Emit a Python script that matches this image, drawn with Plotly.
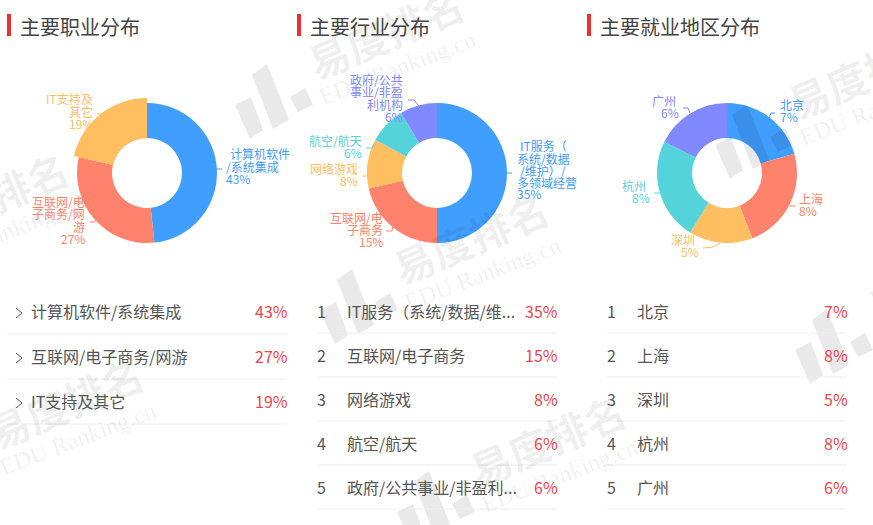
#!/usr/bin/env python3

import plotly.graph_objects as go

# data
job_names = ["计算机软件/系统集成", "互联网/电子商务/网游", "IT支持及其它"]
job_values = [43, 27, 19]
job_labels = [["计算机软件", "/系统集成"], ["互联网/电", "子商务/网", "游"], ["IT支持及", "其它"]]

industry_names = ["IT服务（系统/数据/维...", "互联网/电子商务", "网络游戏", "航空/航天", "政府/公共事业/非盈利..."]
industry_values = [35, 15, 8, 6, 6]
industry_labels = [["IT服务（", "系统/数据", "/维护）/", "多领域经营"], ["互联网/电", "子商务"], ["网络游戏"],
                   ["航空/航天"], ["政府/公共", "事业/非盈", "利机构"]]

city_names = ["北京", "上海", "深圳", "杭州", "广州"]
city_values = [7, 8, 5, 8, 6]
city_labels = [["北京"], ["上海"], ["深圳"], ["杭州"], ["广州"]]

titles = ["主要职业分布", "主要行业分布", "主要就业地区分布"]

colors = ["#409EFF", "#FF826C", "#FFBE5F", "#55D3DB", "#8089FF"]
FONT = "Noto Sans CJK SC"
W, H = 873, 525


def px(x):
    return x / W


def py(y):
    return 1 - y / H


fig = go.Figure()
annotations = []
shapes = []


def text(x, y, s, size=12, color="#333", anchor="left", **kw):
    # annotations sit a little inside their anchor, pull them back out
    nudge = {"left": -2, "right": 2, "center": 0}[anchor]
    annotations.append(dict(x=px(x + nudge), y=py(y - 1.5), xref="paper", yref="paper", text=s, showarrow=False,
                            xanchor=anchor, yanchor="middle", borderpad=0,
                            font=dict(family=kw.pop("family", FONT), size=size, color=color), **kw))


def polyline(points, color, width=1, closed=False, fill=None):
    d = "M" + " L".join(f"{px(x):.5f},{py(y):.5f}" for x, y in points) + (" Z" if closed else "")
    shapes.append(dict(type="path", path=d, xref="paper", yref="paper", layer="above",
                       line=dict(color=color, width=width), fillcolor=fill))


def donut(cx, cy, r, hole, values, slice_colors):
    fig.add_trace(go.Pie(values=values, sort=False, direction="clockwise", rotation=0, hole=hole,
                         marker=dict(colors=slice_colors, line=dict(width=0)), textinfo="none",
                         showlegend=False, hoverinfo="percent",
                         domain=dict(x=[px(cx - r), px(cx + r)], y=[py(cy + r), py(cy - r)])))


# watermark goes in first so it sits behind the labels
mark = "rgba(0,0,0,0.085)"
mark_text = "rgba(0,0,0,0.065)"
bars = [[(0, 45), (16, 37), (28, 70), (15, 79)],
        [(17, 15), (32, 4), (54, 60), (38, 69)],
        [(55, 37), (70, 28), (78, 45), (63, 52)]]
for ox, oy in [(235, 60), (320, 265), (715, 100), (397, 467), (795, 305), (-160, 225), (-85, 430)]:
    for bar in bars:
        polyline([(ox + a, oy + b) for a, b in bar], "rgba(0,0,0,0)", width=0, closed=True, fill=mark)
    text(ox + 150, oy - 27, "<b>易度排名</b>", size=41, color=mark_text, anchor="center", textangle=-23)
    text(ox + 162, oy + 10, "EDU Ranking.cn", size=24, color=mark_text, anchor="center", textangle=-21,
         family="Liberation Serif")

centers = [147, 437, 727]
cy = 173
all_values = [job_values, industry_values, city_values]
for cx, vals in zip(centers, all_values):
    donut(cx, cy, 70, 0.5, vals, colors[:len(vals)])

# the yellow slice in the first donut is drawn larger
donut(centers[0], cy, 75, 35 / 75, job_values, ["rgba(0,0,0,0)", "rgba(0,0,0,0)", colors[2]])

# titles
for x, t in zip([7, 297, 587], titles):
    shapes.append(dict(type="rect", x0=px(x), x1=px(x + 4), y0=py(36), y1=py(14), xref="paper", yref="paper",
                       fillcolor="#E9302D", line=dict(width=0)))
    text(x + 14, 28, t, size=20, color="#444")

# pie labels: anchor side and (x, y) of every line, percent line last
label_layout = [
    [("left", [(231, 155), (227, 168), (227, 180)]),
     ("right", [(84, 203), (84, 215), (84, 228), (84, 240)]),
     ("right", [(92, 100), (92, 113), (92, 125)])],
    [("left", [(521, 147), (518, 160), (521, 172), (518, 184), (518, 195)]),
     ("right", [(382, 219), (382, 231), (382, 243)]),
     ("right", [(357, 170), (357, 182)]),
     ("right", [(361, 142), (361, 154)]),
     ("right", [(402, 81), (402, 93), (402, 106), (402, 118)])],
    [("left", [(781, 106), (781, 118)]),
     ("left", [(800, 200), (800, 212)]),
     ("right", [(694, 241), (698, 253)]),
     ("right", [(645, 187), (649, 199)]),
     ("right", [(675, 102), (678, 114)])],
]
leaders = [
    [[(217, 169), (222, 169)], [(90, 222), (95, 222), (96, 216)], [(97, 114), (103, 114)]],
    [[(507, 173), (512, 173)], [(386, 231), (392, 231), (393, 226)], [(362, 176), (367, 176)],
     [(366, 148), (372, 148), (375, 143)], [(408, 100), (414, 100), (419, 106)]],
    [[(775, 113), (771, 113), (769, 119)], [(789, 206), (795, 206)], [(703, 248), (713, 247), (720, 243)],
     [(654, 193), (660, 193)], [(683, 108), (688, 108), (690, 113)]],
]
all_labels = [job_labels, industry_labels, city_labels]
for labels, vals, layout, lines in zip(all_labels, all_values, label_layout, leaders):
    for i, (rows, v) in enumerate(zip(labels, vals)):
        anchor, pos = layout[i]
        for (x, y), s in zip(pos, rows + [f"{v}%"]):
            text(x, y, s, size=12, color=colors[i], anchor=anchor)
        polyline(lines[i], colors[i], width=1)

# tables
red = "#F0454A"
grey = "#555"
rule = "#EEEEEE"

for i, (name, v) in enumerate(zip(job_names, job_values)):
    y = 313 + 45 * i
    polyline([(16, y - 5), (22, y), (16, y + 5)], "#555", width=1)
    text(32, y - 0.5, name, size=16, color=grey)
    text(287, y - 0.5, f"{v}%", size=16, color=red, anchor="right")
    shapes.append(dict(type="line", x0=px(7), x1=px(287), y0=py(334 + 45 * i), y1=py(334 + 45 * i),
                       xref="paper", yref="paper", line=dict(color=rule, width=1)))

for x0, names, vals in [(317, industry_names, industry_values), (607, city_names, city_values)]:
    for i, (name, v) in enumerate(zip(names, vals)):
        y = 312.5 + 44 * i
        text(x0 + 1, y, str(i + 1), size=16, color=grey)
        text(x0 + 31, y, name, size=16, color=grey)
        text(x0 + 240, y, f"{v}%", size=16, color=red, anchor="right")
        shapes.append(dict(type="line", x0=px(x0), x1=px(x0 + 240), y0=py(333 + 44 * i), y1=py(333 + 44 * i),
                           xref="paper", yref="paper", line=dict(color=rule, width=1)))

fig.update_layout(width=W, height=H, margin=dict(l=0, r=0, t=0, b=0), paper_bgcolor="white",
                  plot_bgcolor="white", annotations=annotations, shapes=shapes, font=dict(family=FONT))

fig.write_html("out.html", config=dict(displayModeBar=False), post_script="document.body.style.margin='0';")
